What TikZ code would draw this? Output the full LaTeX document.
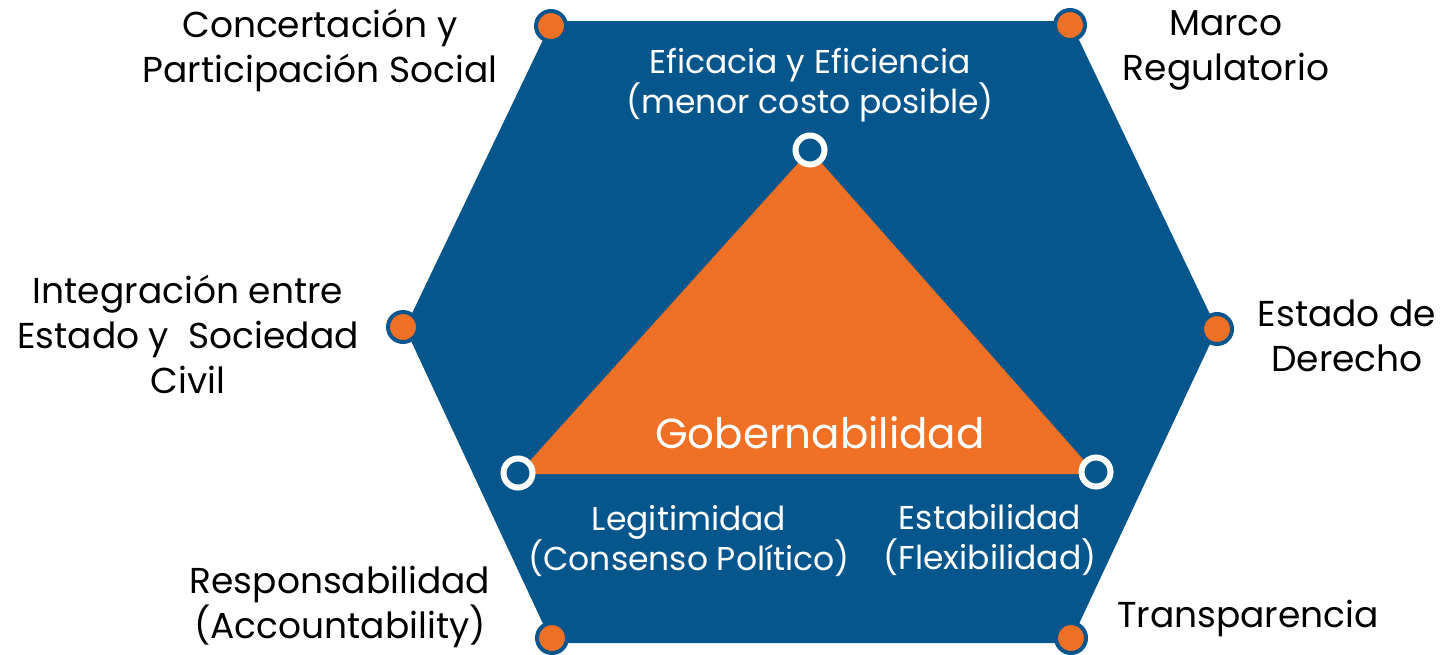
\documentclass[tikz,border=0pt]{standalone}
\usepackage{fontspec}
\setmainfont{Poppins}
\definecolor{hexblue}{RGB}{5,86,140}
\definecolor{dotorange}{RGB}{240,112,38}
\begin{document}
\begin{tikzpicture}[x=0.5pt,y=-0.5pt,
  outerdot/.style={circle,fill=dotorange,draw=hexblue,line width=2pt,minimum size=15pt,inner sep=0pt},
  ring/.style={circle,fill=hexblue,draw=white,line width=3pt,minimum size=14.5pt,inner sep=0pt},
  lbl/.style={align=center,text=black,font=\fontsize{18}{22.5}\selectfont,inner sep=0pt},
  wlbl/.style={align=center,text=white,font=\fontsize{16.5}{20}\selectfont,inner sep=0pt}]
\useasboundingbox (0,0) rectangle (1443,654);
% hexagon
\fill[hexblue] (552,21) -- (1070,21) -- (1217,329) -- (1070,643) -- (552,643) -- (405,328) -- cycle;
% triangle
\fill[dotorange] (810,150) -- (1096,474) -- (518,474) -- cycle;
% outer dots
\node[outerdot] (d1) at (551,26) {};
\node[outerdot] (d2) at (1070,25) {};
\node[outerdot] (d3) at (1217,329) {};
\node[outerdot] (d4) at (1071,638) {};
\node[outerdot] (d5) at (552,638) {};
\node[outerdot] (d6) at (403,327) {};
% inner rings
\node[ring] (r1) at (810,150) {};
\node[ring] (r2) at (518,473) {};
\node[ring] (r3) at (1096,472) {};
% labels
\node[lbl] (t1) at (320,50) {Concertación y\\Participación Social};
\node[lbl] (t2) at (1226,50) {Marco\\Regulatorio};
\node[lbl] (t3) at (1347,336) {Estado de\\Derecho};
\node[lbl] (t4) at (1248,618) {Transparencia};
\node[lbl] (t5) at (340,607) {Responsabilidad\\(Accountability)};
\node[lbl] (t6) at (188,334) {Integración entre\\Estado y\ \ Sociedad\\Civil};
\node[wlbl] (w1) at (810,85) {Eficacia y Eficiencia\\(menor costo posible)};
\node[wlbl] (w2) at (689,541) {Legitimidad\\(Consenso Político)};
\node[wlbl] (w3) at (990,540) {Estabilidad\\(Flexibilidad)};
\node[text=white,inner sep=0pt,font=\fontsize{21}{25}\selectfont] (g) at (820,433) {Gobernabilidad};
\end{tikzpicture}
\end{document}
